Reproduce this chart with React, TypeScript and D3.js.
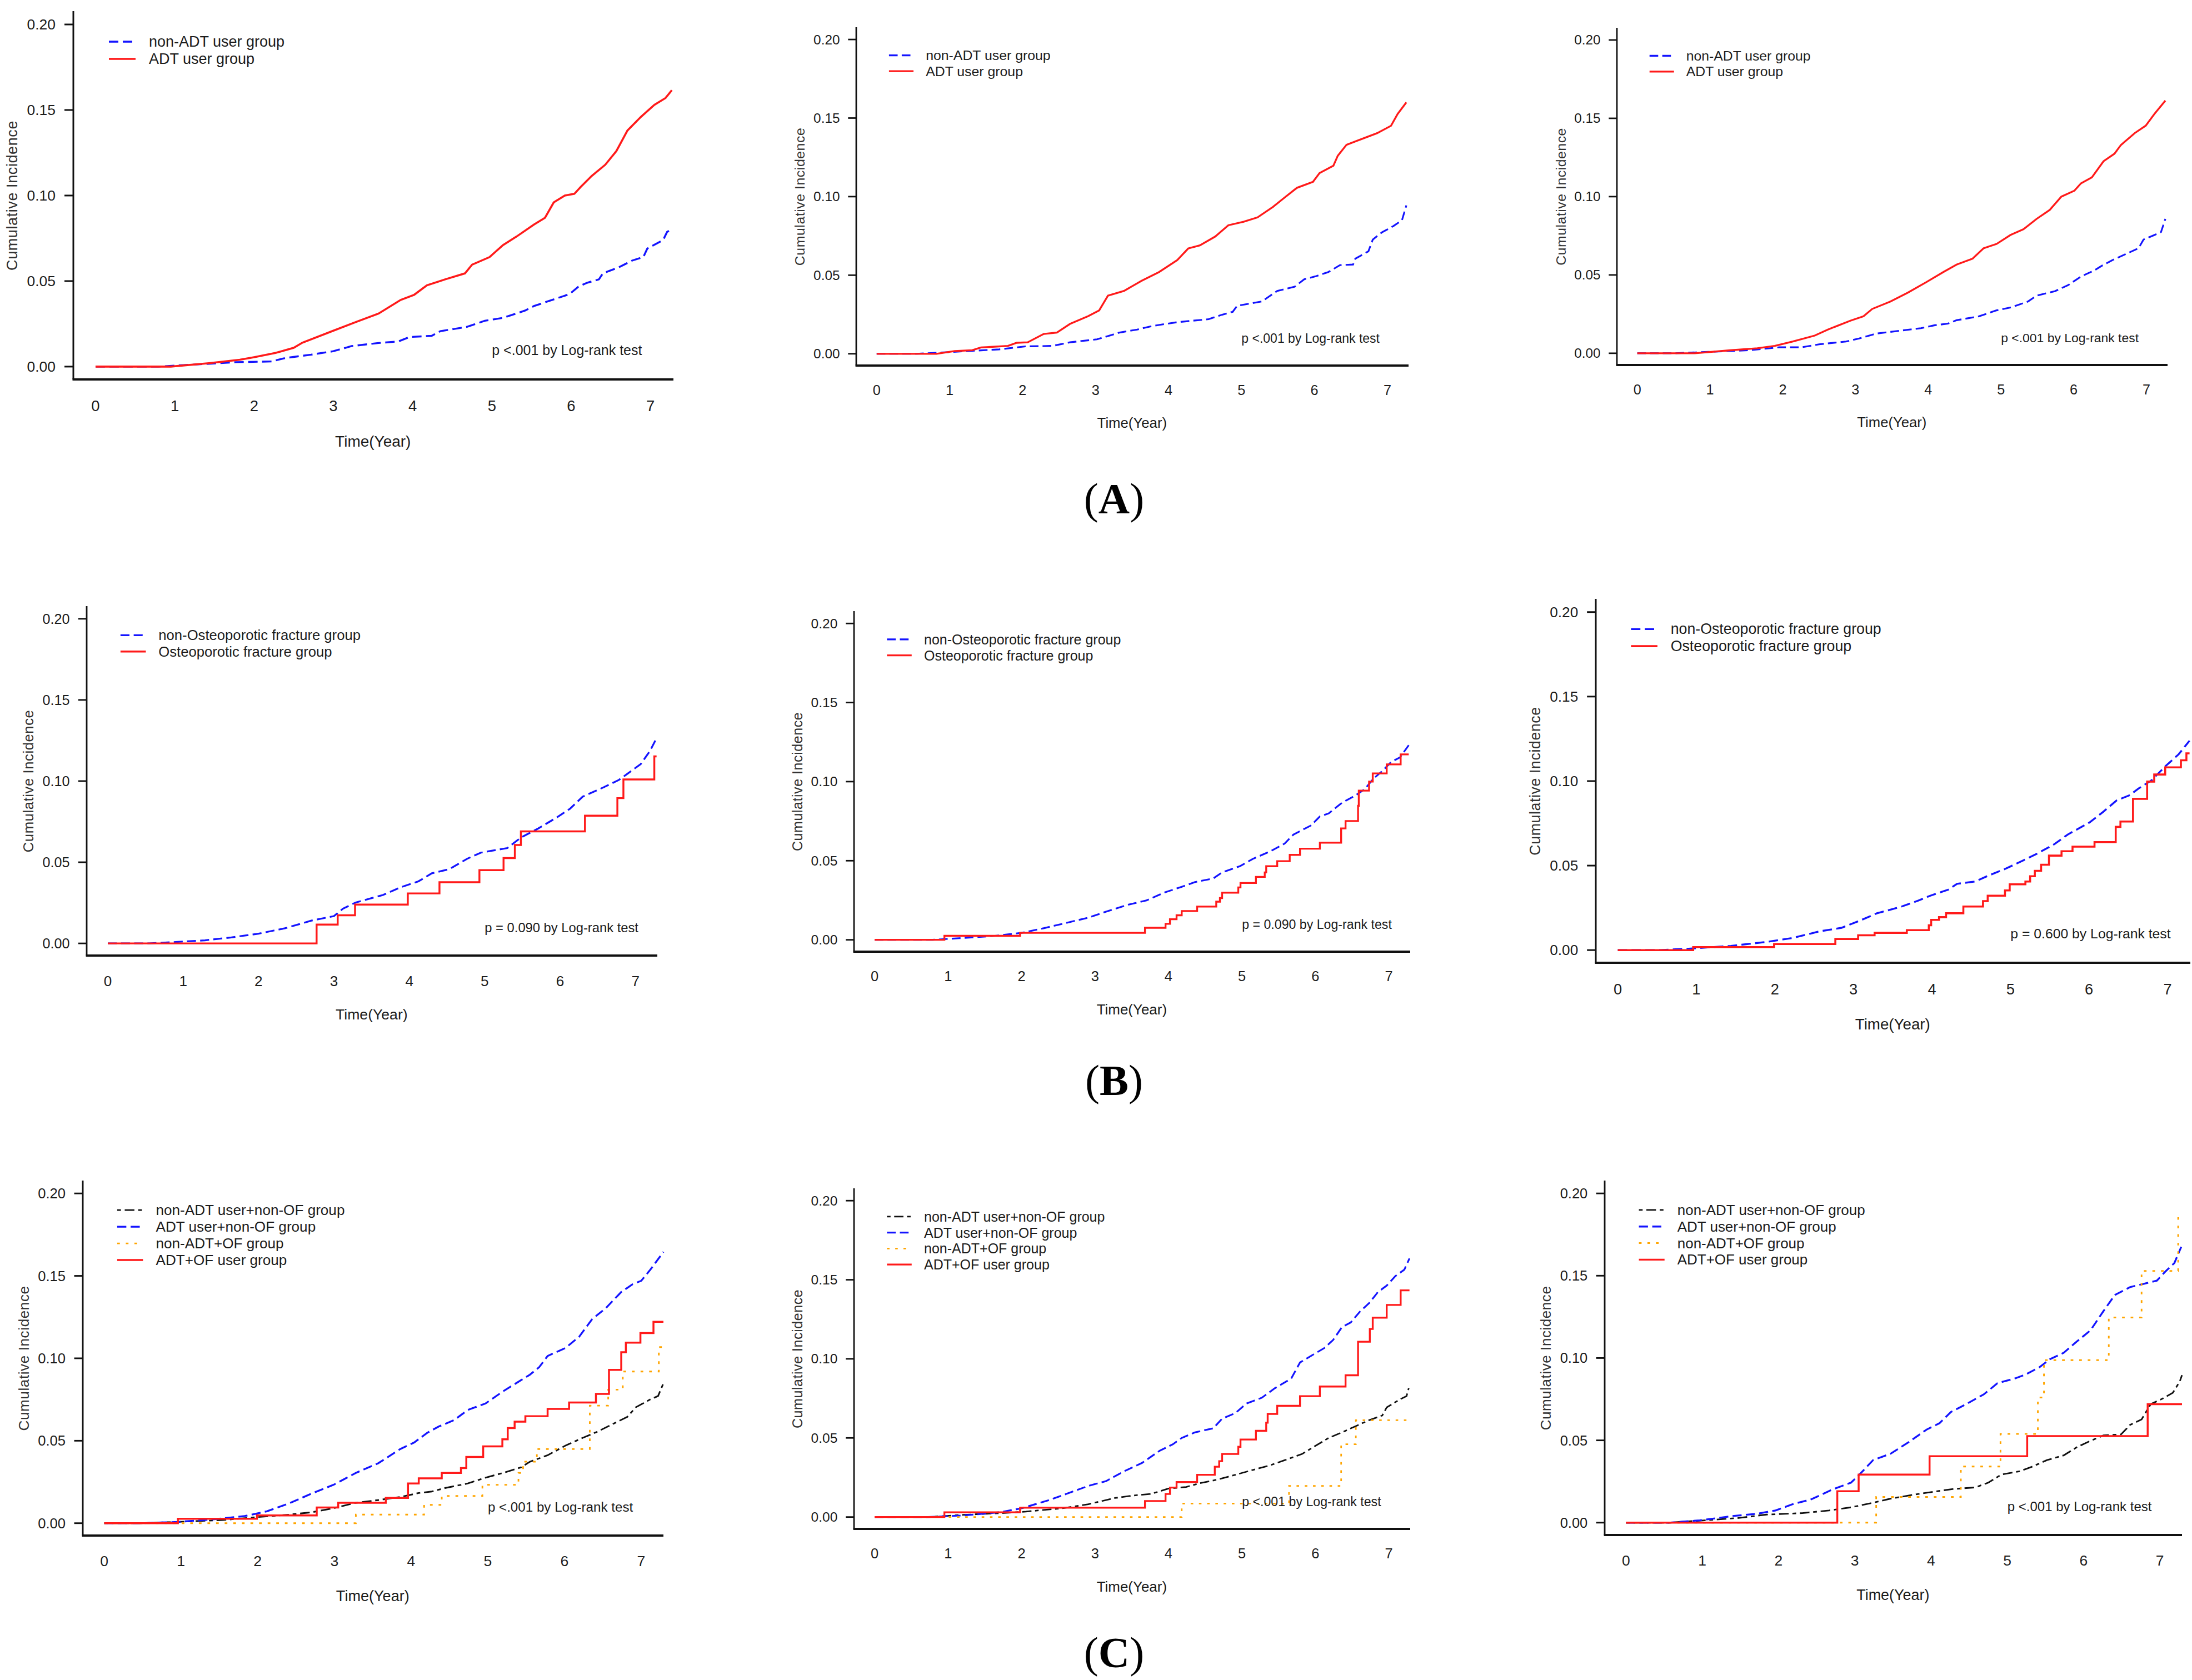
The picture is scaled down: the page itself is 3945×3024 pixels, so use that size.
import React from "react";
import * as d3 from "d3";

type Pt = [number, number];

const TIME_TICKS = [0, 1, 2, 3, 4, 5, 6, 7];
const INCIDENCE_TICKS = [0, 0.05, 0.1, 0.15, 0.2];
const X_DOMAIN: [number, number] = [-0.28, 7.29];
const Y_DOMAIN: [number, number] = [-0.0075, 0.2078];

const LEGEND_A = ["non-ADT user group", "ADT user group"];
const LEGEND_B = ["non-Osteoporotic fracture group", "Osteoporotic fracture group"];
const LEGEND_C = ["non-ADT user+non-OF group", "ADT user+non-OF group", "non-ADT+OF group", "ADT+OF user group"];
const P_TEXTS = [
  "p <.001 by Log-rank test", "p <.001 by Log-rank test", "p <.001 by Log-rank test",
  "p = 0.090 by Log-rank test", "p = 0.090 by Log-rank test", "p = 0.600 by Log-rank test",
  "p <.001 by Log-rank test", "p <.001 by Log-rank test", "p <.001 by Log-rank test",
];
const ROW_LABELS = ["A", "B", "C"];

// ---- Panel A ----
const A1_NON_ADT: Pt[] = [[0,0],[0.79,0],[1.32,0.0014],[1.77,0.0026],[2.22,0.003],[2.39,0.005],[2.72,0.007],[3.0,0.009],[3.23,0.012],[3.57,0.0138],[3.82,0.0147],[3.96,0.0173],[4.24,0.018],[4.35,0.0207],[4.69,0.0233],[4.91,0.0268],[5.14,0.0285],[5.42,0.0328],[5.53,0.0354],[5.76,0.039],[5.98,0.0424],[6.09,0.0467],[6.2,0.049],[6.35,0.051],[6.4,0.0545],[6.6,0.058],[6.77,0.062],[6.91,0.064],[6.96,0.069],[7.16,0.074],[7.21,0.0787],[7.27,0.0804]];
const A1_ADT: Pt[] = [[0,0],[0.95,0],[1.43,0.002],[1.82,0.004],[2.0,0.0055],[2.27,0.008],[2.5,0.011],[2.61,0.014],[3.0,0.021],[3.28,0.026],[3.57,0.031],[3.85,0.039],[4.02,0.042],[4.18,0.0475],[4.41,0.051],[4.66,0.0545],[4.75,0.0596],[4.97,0.064],[5.14,0.071],[5.31,0.076],[5.53,0.083],[5.67,0.087],[5.78,0.096],[5.92,0.1],[6.04,0.101],[6.12,0.105],[6.26,0.1115],[6.43,0.118],[6.57,0.126],[6.71,0.138],[6.88,0.146],[7.05,0.153],[7.19,0.157],[7.27,0.1616]];
const A2_NON_ADT: Pt[] = [[0,0],[0.55,0],[0.88,0.0008],[1.25,0.0017],[1.68,0.0028],[2.04,0.0047],[2.41,0.005],[2.65,0.0073],[3.02,0.0092],[3.33,0.0135],[3.57,0.0154],[3.78,0.0177],[4.12,0.0201],[4.55,0.022],[4.73,0.0248],[4.88,0.0267],[4.94,0.0305],[5.28,0.0333],[5.49,0.04],[5.73,0.0427],[5.86,0.0474],[6.01,0.0492],[6.19,0.052],[6.35,0.0564],[6.53,0.0568],[6.56,0.0605],[6.74,0.0652],[6.8,0.0727],[6.93,0.0774],[7.08,0.0812],[7.2,0.085],[7.26,0.0944]];
const A2_ADT: Pt[] = [[0,0],[0.82,0],[1.07,0.0017],[1.31,0.0023],[1.43,0.004],[1.8,0.005],[1.92,0.007],[2.07,0.0073],[2.29,0.0126],[2.47,0.0135],[2.65,0.019],[2.9,0.024],[3.05,0.0276],[3.17,0.037],[3.39,0.04],[3.63,0.0464],[3.87,0.052],[4.12,0.0596],[4.27,0.067],[4.43,0.069],[4.64,0.0746],[4.82,0.0818],[5.03,0.084],[5.22,0.0868],[5.43,0.0934],[5.58,0.099],[5.76,0.1056],[5.98,0.1094],[6.07,0.115],[6.26,0.1197],[6.32,0.126],[6.44,0.133],[6.65,0.1367],[6.86,0.1404],[7.05,0.1451],[7.14,0.1526],[7.26,0.16]];
const A3_NON_ADT: Pt[] = [[0,0],[0.52,0],[0.98,0.0009],[1.53,0.0019],[1.95,0.0038],[2.26,0.0038],[2.5,0.0057],[2.87,0.0075],[3.05,0.0094],[3.29,0.0126],[3.63,0.0145],[3.9,0.016],[4.09,0.0179],[4.27,0.0189],[4.39,0.0211],[4.7,0.0236],[4.94,0.0274],[5.13,0.0292],[5.37,0.033],[5.49,0.0368],[5.74,0.0396],[5.92,0.0434],[6.1,0.049],[6.28,0.0528],[6.38,0.0557],[6.53,0.0594],[6.71,0.0632],[6.89,0.067],[6.96,0.0726],[7.11,0.0755],[7.2,0.0774],[7.26,0.0858]];
const A3_ADT: Pt[] = [[0,0],[0.79,0],[1.28,0.0019],[1.65,0.0032],[1.89,0.0047],[2.14,0.0075],[2.44,0.0113],[2.62,0.0151],[2.93,0.0208],[3.11,0.0236],[3.23,0.0283],[3.48,0.033],[3.72,0.0387],[3.97,0.0453],[4.21,0.0519],[4.39,0.0566],[4.61,0.0604],[4.76,0.067],[4.94,0.0698],[5.13,0.0755],[5.31,0.0792],[5.49,0.0858],[5.67,0.0915],[5.83,0.1],[6.01,0.1038],[6.1,0.1085],[6.25,0.1123],[6.41,0.1226],[6.56,0.1274],[6.65,0.133],[6.84,0.1406],[6.99,0.1453],[7.11,0.1528],[7.26,0.1613]];

// ---- Panel B ----
const B1_NON_OF: Pt[] = [[0,0],[0.55,0],[0.93,0.0009],[1.29,0.0019],[1.64,0.0037],[2.0,0.006],[2.35,0.0093],[2.7,0.014],[3.0,0.0168],[3.12,0.0214],[3.29,0.0252],[3.65,0.0298],[3.88,0.0345],[4.12,0.0382],[4.3,0.0432],[4.53,0.0457],[4.77,0.0522],[4.95,0.0559],[5.3,0.0587],[5.48,0.0652],[5.71,0.0708],[5.95,0.0774],[6.13,0.0829],[6.3,0.0904],[6.57,0.096],[6.78,0.1007],[6.89,0.1044],[7.07,0.1105],[7.19,0.1184],[7.28,0.1264]];
const B1_OF: Pt[] = [[0,0],[2.77,0.0116],[3.05,0.0173],[3.28,0.0239],[3.98,0.0308],[4.4,0.0377],[4.93,0.0451],[5.25,0.0526],[5.4,0.0606],[5.48,0.069],[6.33,0.0787],[6.76,0.0895],[6.84,0.101],[7.25,0.1152],[7.28,0.1152]];
const B2_NON_OF: Pt[] = [[0,0],[0.79,0],[1.15,0.001],[1.64,0.0025],[2.0,0.0044],[2.3,0.0073],[2.61,0.0107],[2.91,0.014],[3.15,0.0178],[3.45,0.0222],[3.7,0.0249],[3.94,0.0298],[4.18,0.0335],[4.36,0.0365],[4.61,0.0388],[4.73,0.0426],[4.97,0.0465],[5.15,0.0512],[5.39,0.056],[5.58,0.0608],[5.7,0.0665],[5.94,0.0723],[6.06,0.078],[6.18,0.0799],[6.36,0.0866],[6.55,0.0914],[6.67,0.0952],[6.79,0.1019],[6.91,0.1067],[7.03,0.1124],[7.15,0.1153],[7.27,0.123]];
const B2_OF: Pt[] = [[0,0],[0.95,0.0025],[1.98,0.0044],[3.68,0.0076],[3.96,0.0101],[4.02,0.013],[4.11,0.0155],[4.18,0.0182],[4.39,0.021],[4.65,0.0241],[4.7,0.0264],[4.73,0.0298],[4.95,0.0331],[4.98,0.0359],[5.19,0.0398],[5.31,0.0426],[5.33,0.0465],[5.48,0.0497],[5.65,0.0537],[5.79,0.0576],[6.06,0.0614],[6.35,0.0704],[6.41,0.0751],[6.58,0.0847],[6.59,0.0943],[6.73,0.1],[6.78,0.1052],[6.97,0.1109],[7.16,0.1172],[7.27,0.1172]];
const B3_NON_OF: Pt[] = [[0,0],[0.54,0],[0.93,0.0009],[1.44,0.0025],[1.89,0.0048],[2.23,0.0072],[2.57,0.0111],[2.85,0.0132],[3.08,0.0174],[3.3,0.0218],[3.59,0.0254],[3.81,0.029],[3.98,0.0322],[4.21,0.0358],[4.32,0.0392],[4.55,0.0406],[4.71,0.0439],[4.94,0.0482],[5.17,0.0532],[5.34,0.0571],[5.56,0.0627],[5.73,0.0684],[6.01,0.0756],[6.18,0.0818],[6.35,0.0885],[6.52,0.0917],[6.63,0.0956],[6.8,0.1006],[6.97,0.1087],[7.14,0.1158],[7.28,0.1239]];
const B3_OF: Pt[] = [[0,0],[0.96,0.0018],[1.99,0.0036],[2.77,0.0066],[3.06,0.0088],[3.27,0.0102],[3.68,0.0118],[3.96,0.0147],[3.99,0.0179],[4.09,0.0195],[4.18,0.0218],[4.4,0.0258],[4.65,0.029],[4.71,0.0322],[4.93,0.0353],[4.99,0.0389],[5.19,0.0406],[5.25,0.0437],[5.31,0.0469],[5.39,0.0505],[5.49,0.0559],[5.65,0.0585],[5.79,0.0612],[6.07,0.0639],[6.34,0.0729],[6.4,0.0761],[6.56,0.0895],[6.74,0.0997],[6.83,0.1039],[6.97,0.1081],[7.17,0.1123],[7.24,0.1164],[7.28,0.1164]];

// ---- Panel C ----
const C1_NONADT_NONOF: Pt[] = [[0,0],[0.49,0],[0.96,0.0008],[1.54,0.0019],[2.0,0.0037],[2.41,0.0052],[2.7,0.0066],[2.99,0.0091],[3.28,0.0124],[3.57,0.014],[3.86,0.0159],[4.1,0.0183],[4.27,0.0192],[4.45,0.0214],[4.74,0.0241],[4.97,0.0276],[5.2,0.0305],[5.43,0.0338],[5.55,0.0373],[5.78,0.0412],[6.01,0.047],[6.24,0.0518],[6.41,0.0551],[6.65,0.0606],[6.82,0.0645],[6.93,0.0703],[7.12,0.0751],[7.22,0.0771],[7.29,0.0849]];
const C1_ADT_NONOF: Pt[] = [[0,0],[0.49,0],[0.96,0.0008],[1.42,0.0023],[1.83,0.0043],[2.12,0.0072],[2.41,0.012],[2.7,0.0179],[2.99,0.0233],[3.28,0.0305],[3.57,0.0363],[3.86,0.045],[4.04,0.0489],[4.21,0.0548],[4.36,0.0586],[4.56,0.0625],[4.74,0.0687],[4.97,0.0726],[5.2,0.08],[5.37,0.0849],[5.55,0.0901],[5.67,0.0946],[5.78,0.1014],[6.01,0.1062],[6.19,0.113],[6.36,0.1237],[6.54,0.1305],[6.74,0.1402],[6.89,0.145],[7.0,0.147],[7.12,0.1538],[7.29,0.1645]];
const C1_NONADT_OF: Pt[] = [[0,0],[3.28,0.0052],[4.17,0.0111],[4.4,0.0165],[4.93,0.0233],[5.4,0.0305],[5.46,0.0373],[5.64,0.045],[6.33,0.0713],[6.57,0.081],[6.76,0.092],[7.23,0.1068],[7.29,0.1068]];
const C1_ADT_OF: Pt[] = [[0,0],[0.96,0.0027],[1.99,0.0047],[2.77,0.0095],[3.05,0.0124],[3.67,0.0153],[3.96,0.0241],[4.1,0.0272],[4.4,0.0305],[4.65,0.0334],[4.72,0.0402],[4.94,0.0466],[5.19,0.0509],[5.26,0.0577],[5.35,0.0616],[5.49,0.0649],[5.78,0.0693],[6.06,0.0732],[6.41,0.0784],[6.58,0.093],[6.74,0.1037],[6.8,0.1095],[6.99,0.1153],[7.16,0.1221],[7.29,0.1221]];
const C2_NONADT_NONOF: Pt[] = [[0,0],[0.73,0],[1.21,0.0014],[1.7,0.0024],[2.06,0.0034],[2.3,0.0045],[2.55,0.0055],[2.91,0.0081],[3.27,0.012],[3.52,0.0136],[3.76,0.0146],[4.0,0.018],[4.24,0.019],[4.42,0.0213],[4.67,0.0237],[4.91,0.0267],[5.15,0.0298],[5.39,0.0328],[5.58,0.0359],[5.82,0.0399],[6.0,0.045],[6.18,0.05],[6.39,0.0541],[6.55,0.0575],[6.73,0.0612],[6.91,0.0642],[6.97,0.0693],[7.15,0.0744],[7.24,0.0764],[7.27,0.0815]];
const C2_ADT_NONOF: Pt[] = [[0,0],[0.73,0],[1.21,0.001],[1.7,0.003],[2.0,0.0055],[2.36,0.0105],[2.61,0.0146],[2.91,0.0197],[3.15,0.0227],[3.39,0.0288],[3.64,0.0342],[3.88,0.0419],[4.06,0.046],[4.18,0.05],[4.36,0.0535],[4.61,0.0561],[4.73,0.0622],[4.91,0.0657],[5.06,0.0717],[5.27,0.0754],[5.45,0.0815],[5.67,0.0875],[5.79,0.0977],[5.97,0.1027],[6.12,0.1068],[6.24,0.1119],[6.36,0.12],[6.48,0.123],[6.61,0.1301],[6.73,0.1352],[6.85,0.1422],[6.97,0.1463],[7.09,0.1524],[7.21,0.1564],[7.28,0.1635]];
const C2_NONADT_OF: Pt[] = [[0,0],[4.18,0.0085],[5.64,0.0197],[6.35,0.046],[6.55,0.0612],[7.28,0.0612]];
const C2_ADT_OF: Pt[] = [[0,0],[0.95,0.003],[1.98,0.0059],[3.68,0.0101],[3.96,0.0146],[4.02,0.0186],[4.11,0.0221],[4.39,0.0267],[4.63,0.0318],[4.69,0.0353],[4.73,0.0399],[4.95,0.0444],[4.98,0.049],[5.19,0.0545],[5.33,0.0596],[5.35,0.0652],[5.48,0.0703],[5.79,0.0764],[6.06,0.0825],[6.41,0.0896],[6.58,0.1108],[6.74,0.1189],[6.78,0.126],[6.97,0.1341],[7.16,0.1433],[7.28,0.1433]];
const C3_NONADT_NONOF: Pt[] = [[0,0],[0.56,0],[1.03,0.0014],[1.49,0.0029],[1.84,0.0049],[2.31,0.0058],[2.66,0.0074],[2.95,0.0093],[3.24,0.0121],[3.47,0.0146],[3.76,0.0169],[4.05,0.0189],[4.28,0.0204],[4.58,0.0214],[4.75,0.0243],[4.92,0.0292],[5.16,0.0312],[5.33,0.0341],[5.52,0.038],[5.74,0.0409],[5.91,0.0458],[6.09,0.0497],[6.26,0.053],[6.49,0.0536],[6.61,0.0594],[6.76,0.0627],[6.88,0.072],[7.02,0.075],[7.17,0.0789],[7.26,0.0857],[7.29,0.0896]];
const C3_ADT_NONOF: Pt[] = [[0,0],[0.56,0],[0.97,0.0014],[1.38,0.0039],[1.73,0.0055],[1.96,0.0074],[2.19,0.0113],[2.42,0.014],[2.72,0.0204],[2.95,0.0243],[3.06,0.0292],[3.24,0.038],[3.47,0.0419],[3.7,0.0487],[3.94,0.0565],[4.11,0.0604],[4.26,0.0672],[4.46,0.072],[4.69,0.0779],[4.87,0.0847],[5.1,0.0876],[5.24,0.09],[5.42,0.0944],[5.56,0.0993],[5.74,0.1032],[5.91,0.11],[6.09,0.1168],[6.26,0.1285],[6.41,0.1383],[6.61,0.1431],[6.79,0.1451],[6.96,0.147],[7.08,0.1529],[7.19,0.1577],[7.28,0.1675]];
const C3_NONADT_OF: Pt[] = [[0,0],[3.28,0.0156],[4.39,0.0341],[4.91,0.0539],[5.4,0.076],[5.48,0.0987],[6.33,0.1246],[6.76,0.1529],[7.24,0.185],[7.29,0.185]];
const C3_ADT_OF: Pt[] = [[0,0],[2.77,0.0191],[3.05,0.0292],[3.98,0.0403],[5.26,0.0526],[6.84,0.072],[7.29,0.072]];

type StyleKey = "blue" | "red" | "black" | "orange";
const STYLES: Record<StyleKey, { stroke: string; width: number; dash: number[] | null; step: boolean }> = {
  black: { stroke: "#111111", width: 3, dash: [7, 7, 18, 7], step: false },
  blue: { stroke: "#1414ff", width: 3.4, dash: [17, 8], step: false },
  orange: { stroke: "#ffa500", width: 3, dash: [5, 11], step: true },
  red: { stroke: "#ff1a1a", width: 3.6, dash: null, step: false },
};

type Series = { data: Pt[]; style: StyleKey; step?: boolean };
type PanelCfg = {
  box: { left: number; right: number; top: number; bottom: number };
  series: Series[];
  legend: { label: string; style: StyleKey }[];
  pText: string;
};

const legA = [{ label: LEGEND_A[0], style: "blue" as StyleKey }, { label: LEGEND_A[1], style: "red" as StyleKey }];
const legB = [{ label: LEGEND_B[0], style: "blue" as StyleKey }, { label: LEGEND_B[1], style: "red" as StyleKey }];
const legC = [
  { label: LEGEND_C[0], style: "black" as StyleKey },
  { label: LEGEND_C[1], style: "blue" as StyleKey },
  { label: LEGEND_C[2], style: "orange" as StyleKey },
  { label: LEGEND_C[3], style: "red" as StyleKey },
];

const PANELS: PanelCfg[] = [
  { box: { left: 132, right: 1212, top: 20, bottom: 683 }, series: [{ data: A1_NON_ADT, style: "blue" }, { data: A1_ADT, style: "red" }], legend: legA, pText: P_TEXTS[0] },
  { box: { left: 1541, right: 2535, top: 49, bottom: 658 }, series: [{ data: A2_NON_ADT, style: "blue" }, { data: A2_ADT, style: "red" }], legend: legA, pText: P_TEXTS[1] },
  { box: { left: 2910, right: 3901, top: 50, bottom: 657 }, series: [{ data: A3_NON_ADT, style: "blue" }, { data: A3_ADT, style: "red" }], legend: legA, pText: P_TEXTS[2] },
  { box: { left: 156, right: 1183, top: 1091, bottom: 1720 }, series: [{ data: B1_NON_OF, style: "blue" }, { data: B1_OF, style: "red", step: true }], legend: legB, pText: P_TEXTS[3] },
  { box: { left: 1537, right: 2538, top: 1100, bottom: 1713 }, series: [{ data: B2_NON_OF, style: "blue" }, { data: B2_OF, style: "red", step: true }], legend: legB, pText: P_TEXTS[4] },
  { box: { left: 2872, right: 3942, top: 1078, bottom: 1733 }, series: [{ data: B3_NON_OF, style: "blue" }, { data: B3_OF, style: "red", step: true }], legend: legB, pText: P_TEXTS[5] },
  { box: { left: 149, right: 1194, top: 2125, bottom: 2764 }, series: [{ data: C1_NONADT_NONOF, style: "black" }, { data: C1_ADT_NONOF, style: "blue" }, { data: C1_NONADT_OF, style: "orange", step: true }, { data: C1_ADT_OF, style: "red", step: true }], legend: legC, pText: P_TEXTS[6] },
  { box: { left: 1537, right: 2538, top: 2139, bottom: 2752 }, series: [{ data: C2_NONADT_NONOF, style: "black" }, { data: C2_ADT_NONOF, style: "blue" }, { data: C2_NONADT_OF, style: "orange", step: true }, { data: C2_ADT_OF, style: "red", step: true }], legend: legC, pText: P_TEXTS[7] },
  { box: { left: 2888, right: 3927, top: 2125, bottom: 2763 }, series: [{ data: C3_NONADT_NONOF, style: "black" }, { data: C3_ADT_NONOF, style: "blue" }, { data: C3_NONADT_OF, style: "orange", step: true }, { data: C3_ADT_OF, style: "red", step: true }], legend: legC, pText: P_TEXTS[8] },
];

const ROW_LABEL_POS = [
  { x: 2005, y: 924 },
  { x: 2005, y: 1971 },
  { x: 2005, y: 3001 },
];

const SANS = "'Liberation Sans', Arial, Helvetica, sans-serif";
const TXT = "#1c1c1c";

function Panel({ cfg }: { cfg: PanelCfg }) {
  const { left, right, top, bottom } = cfg.box;
  const x = d3.scaleLinear().domain(X_DOMAIN).range([left, right]);
  const y = d3.scaleLinear().domain(Y_DOMAIN).range([bottom, top]);
  const k = (x(1) - x(0)) / 142.7;
  const fmt = d3.format(".2f");
  const fs = 27 * k;

  const dashStr = (s: StyleKey) => {
    const d = STYLES[s].dash;
    return d ? d.map((v) => v * k).join(" ") : undefined;
  };

  return (
    <g>
      {cfg.series.map((s, i) => {
        const st = STYLES[s.style];
        const gen = d3
          .line<Pt>()
          .x((d) => x(d[0]))
          .y((d) => y(d[1]))
          .curve(s.step ? d3.curveStepAfter : d3.curveLinear);
        return (
          <path
            key={i}
            d={gen(s.data) || ""}
            fill="none"
            stroke={st.stroke}
            strokeWidth={st.width * k}
            strokeDasharray={dashStr(s.style)}
            strokeLinejoin="miter"
          />
        );
      })}
      {/* axes */}
      <line x1={left} x2={left} y1={top} y2={bottom} stroke="#111" strokeWidth={3 * k} />
      <line x1={left - 1.5 * k} x2={right} y1={bottom} y2={bottom} stroke="#111" strokeWidth={4.2 * k} />
      {INCIDENCE_TICKS.map((v) => (
        <g key={v}>
          <line x1={left - 16 * k} x2={left} y1={y(v)} y2={y(v)} stroke="#111" strokeWidth={3 * k} />
          <text
            x={left - 32 * k}
            y={y(v)}
            textAnchor="end"
            dominantBaseline="central"
            fontFamily={SANS}
            fontSize={26.5 * k}
            fill={TXT}
          >
            {fmt(v)}
          </text>
        </g>
      ))}
      {TIME_TICKS.map((t) => (
        <text
          key={t}
          x={x(t)}
          y={bottom + 48 * k}
          textAnchor="middle"
          dominantBaseline="central"
          fontFamily={SANS}
          fontSize={27.5 * k}
          fill={TXT}
        >
          {t}
        </text>
      ))}
      <text
        x={(x(0) + x(7)) / 2}
        y={bottom + 112 * k}
        textAnchor="middle"
        dominantBaseline="central"
        fontFamily={SANS}
        fontSize={28 * k}
        fill={TXT}
      >
        Time(Year)
      </text>
      <text
        transform={`translate(${left - 110 * k},${y(0.1)}) rotate(-90)`}
        textAnchor="middle"
        dominantBaseline="central"
        fontFamily={SANS}
        fontSize={27 * k}
        letterSpacing={0.6 * k}
        fill="#333"
      >
        Cumulative Incidence
      </text>
      {/* legend */}
      {cfg.legend.map((l, i) => {
        const ly = y(0.2) + 31 * k + i * 31 * k;
        const st = STYLES[l.style];
        return (
          <g key={i}>
            <line
              x1={left + 64 * k}
              x2={left + 112 * k}
              y1={ly}
              y2={ly}
              stroke={st.stroke}
              strokeWidth={st.width * k}
              strokeDasharray={dashStr(l.style)}
            />
            <text
              x={left + 136 * k}
              y={ly}
              dominantBaseline="central"
              fontFamily={SANS}
              fontSize={fs}
              fill={TXT}
            >
              {l.label}
            </text>
          </g>
        );
      })}
      <text
        x={x(5)}
        y={y(0.0098)}
        dominantBaseline="central"
        fontFamily={SANS}
        fontSize={25 * k}
        fill={TXT}
      >
        {cfg.pText}
      </text>
    </g>
  );
}

export default function App() {
  return (
    <svg
      width={3945}
      height={3024}
      viewBox="0 0 3945 3024"
      style={{ position: "absolute", left: 0, top: 0, background: "#ffffff" }}
    >
      <rect x={0} y={0} width={3945} height={3024} fill="#ffffff" />
      {PANELS.map((p, i) => (
        <Panel key={i} cfg={p} />
      ))}
      {ROW_LABELS.map((r, i) => (
        <text
          key={r}
          x={ROW_LABEL_POS[i].x}
          y={ROW_LABEL_POS[i].y}
          textAnchor="middle"
          fontFamily="'Liberation Serif', 'Times New Roman', serif"
          fontSize={78}
          fill="#000"
        >
          (<tspan fontWeight="bold">{r}</tspan>)
        </text>
      ))}
    </svg>
  );
}
